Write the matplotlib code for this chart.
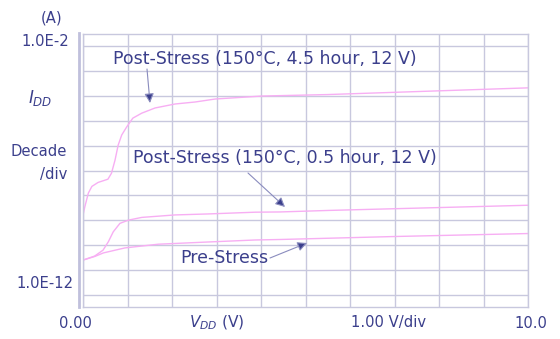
import numpy as np
import matplotlib
matplotlib.use('Agg')
import matplotlib.pyplot as plt

# 读数据 (V, log10 I)
vdd_45h = [0.0, 0.04, 0.12, 0.20, 0.34, 0.56, 0.64, 0.72, 0.79, 0.87, 0.98, 1.12, 1.32,
           1.62, 2.07, 2.52, 2.97, 4.02, 5.5, 7.0, 8.5, 10.0]
logi_45h = [-8.80, -8.47, -7.91, -7.64, -7.48, -7.35, -7.11, -6.58, -5.98, -5.57, -5.25,
            -4.89, -4.69, -4.48, -4.32, -4.24, -4.12, -4.00, -3.94, -3.85, -3.76, -3.67]

vdd_05h = [0.0, 0.26, 0.45, 0.57, 0.68, 0.83, 1.02, 1.32, 2.07, 2.82, 3.87, 4.43,
           5.5, 7.0, 8.5, 10.0]
logi_05h = [-10.61, -10.45, -10.21, -9.87, -9.47, -9.13, -9.00, -8.89, -8.79, -8.75,
            -8.68, -8.67, -8.61, -8.54, -8.47, -8.40]

vdd_pre = [0.0, 0.27, 0.46, 0.94, 1.69, 2.82, 3.87, 4.43, 5.5, 7.0, 8.5, 10.0]
logi_pre = [-10.61, -10.46, -10.32, -10.12, -9.97, -9.88, -9.80, -9.78, -9.73, -9.66,
            -9.60, -9.54]

navy = '#3b3f8c'
grid_c = '#c8c8de'
pink = '#f7aef3'

W, H = 560, 339
fig = plt.figure(figsize=(W / 100, H / 100), dpi=100)
ax = fig.add_axes([83 / W, 1 - 307 / H, 445 / W, 273 / H])

def fx(px):
    return px / W

def fy(py):
    return 1 - py / H

for v, li in [(vdd_45h, logi_45h), (vdd_05h, logi_05h), (vdd_pre, logi_pre)]:
    ax.semilogy(v, 10.0 ** np.array(li), color=pink, lw=1.0)

ax.set_xlim(0, 10)
ax.set_ylim(10 ** -12.5, 10 ** -1.5)
ax.set_xticks(np.arange(0, 11, 1))
ax.set_yticks([10.0 ** k for k in range(-12, -1)])
ax.minorticks_off()
ax.tick_params(left=False, bottom=False, labelleft=False, labelbottom=False)
ax.grid(True, color=grid_c, lw=1.0)
for s in ax.spines.values():
    s.set_color(grid_c)
    s.set_linewidth(1.0)

# 左侧粗线
fig.add_artist(plt.Line2D([fx(79.3), fx(79.3)], [fy(33), fy(307)],
                          color='#c0c0dc', lw=2.0))

fs = 10.6
fig.text(fx(52), fy(18), '(A)', color=navy, fontsize=fs, ha='center', va='center')
fig.text(fx(69), fy(41), '1.0E-2', color=navy, fontsize=fs, ha='right', va='center')
fig.text(fx(40), fy(98), r'$I_{DD}$', color=navy, fontsize=fs + 1.5, ha='center', va='center')
fig.text(fx(67), fy(152), 'Decade', color=navy, fontsize=fs, ha='right', va='center')
fig.text(fx(67), fy(174), '/div', color=navy, fontsize=fs, ha='right', va='center')
fig.text(fx(74), fy(283), '1.0E-12', color=navy, fontsize=fs, ha='right', va='center')

fig.text(fx(75), fy(323), '0.00', color=navy, fontsize=fs, ha='center', va='center')
fig.text(fx(217), fy(323), r'$V_{DD}$ (V)', color=navy, fontsize=fs + 0.5, ha='center', va='center')
fig.text(fx(389), fy(323), '1.00 V/div', color=navy, fontsize=fs, ha='center', va='center')
fig.text(fx(531), fy(323), '10.0', color=navy, fontsize=fs, ha='center', va='center')

fa = 12.5
arrow_kw = dict(arrowstyle='-|>', edgecolor='#8a8cbe', facecolor=navy, lw=0.8,
                mutation_scale=14, shrinkA=0, shrinkB=0)

fig.text(fx(113), fy(59), 'Post-Stress (150°C, 4.5 hour, 12 V)', color=navy,
         fontsize=fa, ha='left', va='center')
ax.annotate('', xy=(fx(150), fy(103)), xycoords='figure fraction',
            xytext=(fx(147), fy(69)), textcoords='figure fraction', arrowprops=arrow_kw)

fig.text(fx(133), fy(158), 'Post-Stress (150°C, 0.5 hour, 12 V)', color=navy,
         fontsize=fa, ha='left', va='center')
ax.annotate('', xy=(fx(285), fy(207)), xycoords='figure fraction',
            xytext=(fx(248), fy(173)), textcoords='figure fraction', arrowprops=arrow_kw)

fig.text(fx(180), fy(258), 'Pre-Stress', color=navy, fontsize=fa, ha='left', va='center')
ax.annotate('', xy=(fx(307), fy(243)), xycoords='figure fraction',
            xytext=(fx(270), fy(258)), textcoords='figure fraction', arrowprops=arrow_kw)

fig.savefig('out.png', dpi=100)
